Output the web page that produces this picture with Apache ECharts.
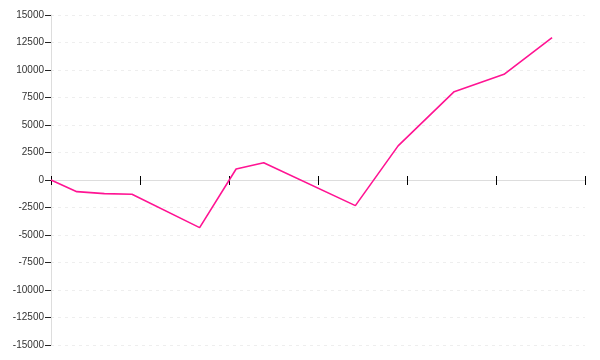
<!DOCTYPE html>
<html>
<head>
<meta charset="utf-8">
<script src="https://cdn.jsdelivr.net/npm/echarts@6/dist/echarts.min.js"></script>
<style>html,body{margin:0;padding:0;background:#fff;}#c{width:600px;height:360px;}</style>
</head>
<body>
<div id="c"></div>
<script>
var xValues = [0, 0.29, 0.6, 0.91, 1.67, 2.08, 2.39, 3.42, 3.90, 4.53, 5.09, 5.63];
var yValues = [0, -1060, -1240, -1300, -4330, 1000, 1570, -2330, 3100, 8030, 9610, 12940];
var yMin = -15000, yMax = 15000, yStep = 2500;
var xMin = 0, xMax = 6, xStep = 1;

var points = xValues.map(function (x, i) { return [x, yValues[i]]; });
var chart = echarts.init(document.getElementById('c'), null, { renderer: 'canvas' });
var baseX = {
  type: 'value', min: xMin, max: xMax, interval: xStep,
  axisLabel: { show: false },
  splitLine: { show: false }
};
chart.setOption({
  animation: false,
  grid: { left: 51, right: 15, top: 15, bottom: 15, containLabel: false },
  xAxis: [
    Object.assign({}, baseX, {
      position: 'bottom',
      axisLine: { onZero: true, onZeroAxisIndex: 0, lineStyle: { color: '#dddddd', width: 1 } },
      axisTick: { show: true, inside: false, length: 5, lineStyle: { color: '#000', width: 1 } }
    }),
    Object.assign({}, baseX, {
      position: 'top',
      axisLine: { onZero: true, onZeroAxisIndex: 1, lineStyle: { color: '#dddddd', width: 1 } },
      axisTick: { show: true, inside: false, length: 4, lineStyle: { color: '#000', width: 1 } }
    })
  ],
  yAxis: [{
    type: 'value', min: yMin, max: yMax, interval: yStep,
    axisLine: { show: true, lineStyle: { color: '#dddddd' } },
    axisTick: { show: true, length: 6, lineStyle: { color: '#222' } },
    axisLabel: { color: '#333', fontFamily: 'Liberation Sans', fontSize: 10, margin: 7,
      formatter: function (v) { return String(v); } },
    splitLine: { show: true, lineStyle: { color: '#eeeeee', type: [3, 4] } }
  }, {
    type: 'value', min: yMin, max: yMax, interval: yStep, show: false,
    splitLine: { show: false }
  }],
  series: [{
    type: 'line', xAxisIndex: 0, yAxisIndex: 0, data: points, showSymbol: false,
    lineStyle: { color: '#ff1493', width: 1.6 }
  }]
});
</script>
</body>
</html>
